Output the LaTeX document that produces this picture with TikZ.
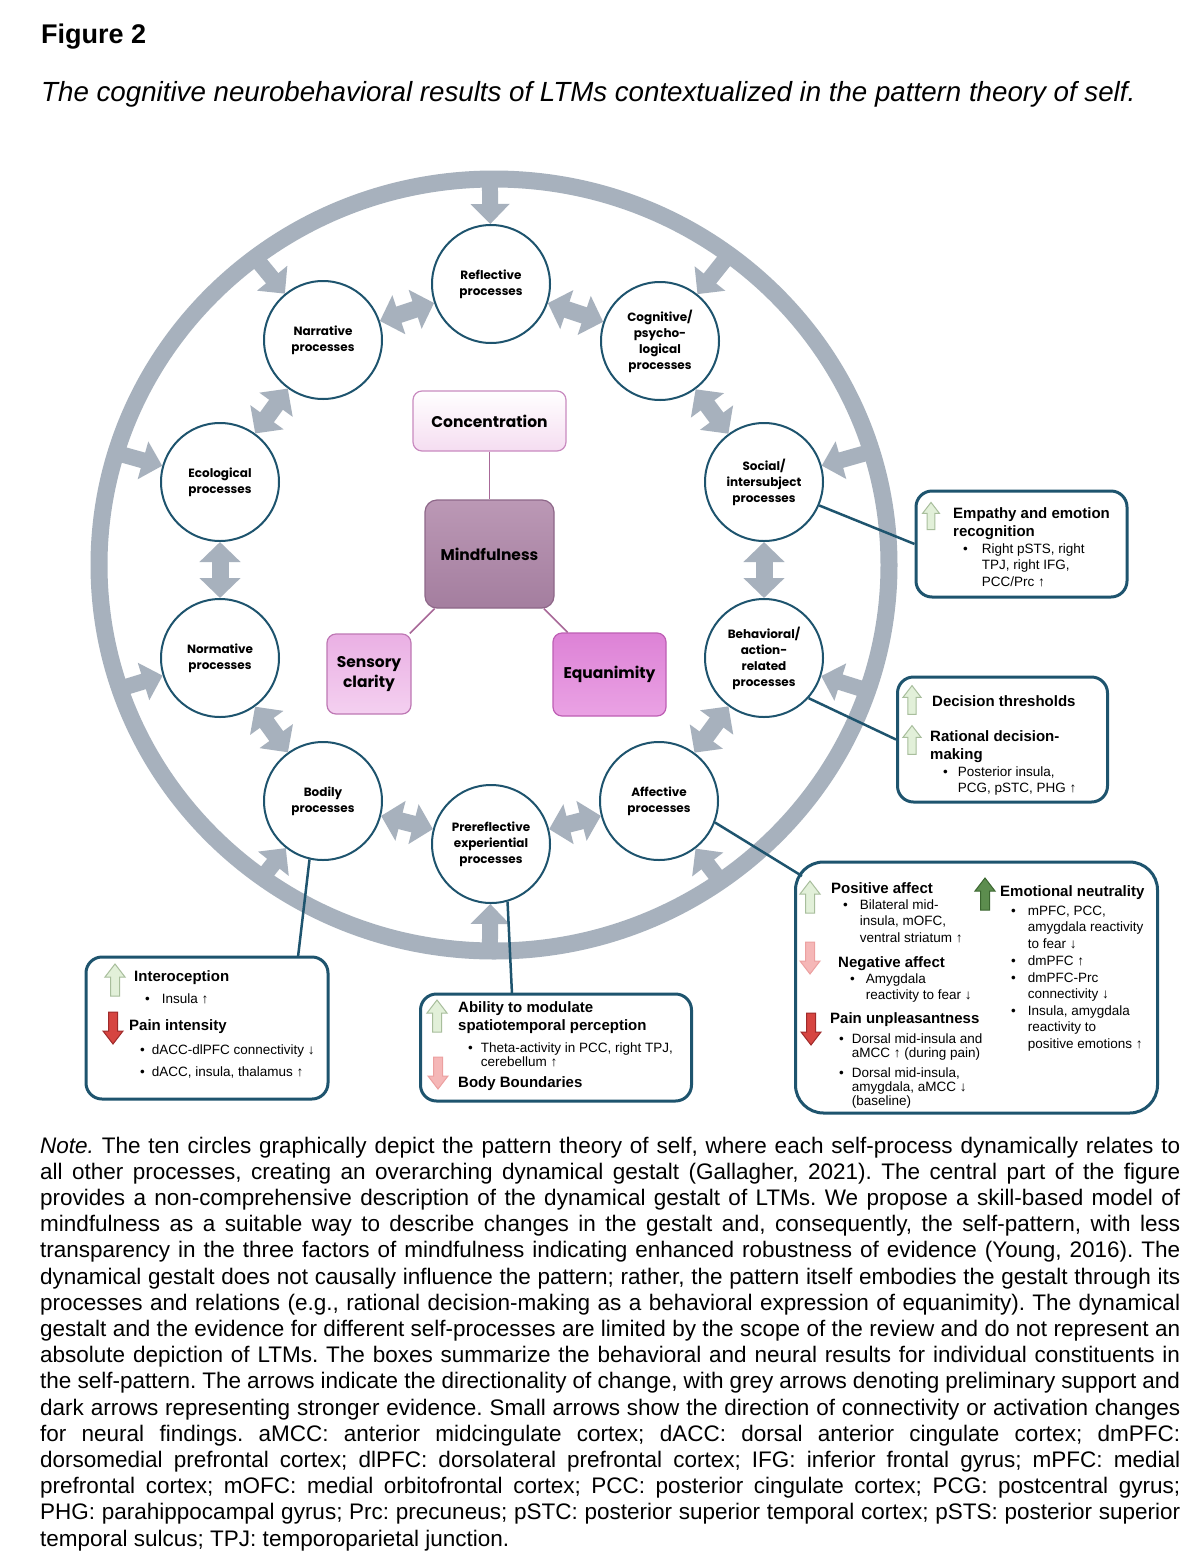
\documentclass[tikz,border=0pt]{standalone}
\usepackage{fontspec}
\setmainfont{Liberation Sans}
\newfontfamily\popfont{Poppins}
\usepackage{tikz}
\usetikzlibrary{arrows.meta,positioning,calc}
\frenchspacing

\definecolor{ringgrey}{RGB}{167,177,189}
\definecolor{selfblue}{RGB}{30,84,110}
\definecolor{concline}{RGB}{201,139,192}
\definecolor{concbot}{RGB}{245,221,241}
\definecolor{mindtop}{RGB}{187,152,181}
\definecolor{mindbot}{RGB}{164,126,159}
\definecolor{mindline}{RGB}{142,103,137}
\definecolor{senstop}{RGB}{234,176,228}
\definecolor{sensbot}{RGB}{244,208,240}
\definecolor{sensline}{RGB}{190,120,180}
\definecolor{equtop}{RGB}{221,130,214}
\definecolor{equbot}{RGB}{234,162,228}
\definecolor{equline}{RGB}{190,95,180}
\definecolor{linkmauve}{RGB}{168,104,152}
\definecolor{lgfill}{RGB}{226,240,217}
\definecolor{lgline}{RGB}{168,190,156}
\definecolor{pkfill}{RGB}{245,183,183}
\definecolor{pkline}{RGB}{236,160,160}
\definecolor{rdfill}{RGB}{214,69,65}
\definecolor{rdline}{RGB}{158,42,42}
\definecolor{dgfill}{RGB}{92,141,78}
\definecolor{dgline}{RGB}{59,102,48}

\newcommand\lines[1]{\begin{tabular}[t]{@{}l@{}}#1\end{tabular}}
\newcommand\bitem[2][5pt]{\textbullet\hspace{#1}\lines{#2}}

\tikzset{
  pics/boxarrow/.style={code={
    \draw[#1] (-4.5,16) -- (-4.5,-3) -- (-10,-3) -- (0,-16) -- (10,-3) -- (4.5,-3) -- (4.5,16) -- cycle;}},
  iconlg/.style={fill=lgfill, draw=lgline, line width=1pt},
  iconpk/.style={fill=pkfill, draw=pkline, line width=1pt},
  iconrd/.style={fill=rdfill, draw=rdline, line width=1pt},
  icondg/.style={fill=dgfill, draw=dgline, line width=1pt},
}

\begin{document}
\begin{tikzpicture}[x=1pt,y=-1pt,
  proc/.style={circle, draw=selfblue, fill=white, line width=2pt, minimum size=118pt,
    inner sep=0pt, align=center, font=\popfont\bfseries\fontsize{12}{16}\selectfont},
  ringarrow/.style={ringgrey, line width=16pt, -{Triangle[width=38pt,length=20pt]}},
  linkarrow/.style={ringgrey, line width=17pt,
    {Triangle[width=40pt,length=20pt]}-{Triangle[width=40pt,length=20pt]}},
  factor/.style={rounded corners=9pt, line width=1.2pt, align=center, inner sep=0pt,
    font=\popfont\bfseries\fontsize{15.5}{20}\selectfont},
  mindlink/.style={linkmauve, line width=1.6pt},
  resbox/.style={draw=selfblue, fill=white, line width=3pt, rounded corners=16pt},
  boxlink/.style={selfblue, line width=2.5pt},
  head/.style={anchor=base west, inner sep=0pt, font=\bfseries\fontsize{15}{18}\selectfont},
  body/.style={anchor=base west, inner sep=0pt, font=\fontsize{13.5}{16.7}\selectfont},
  small/.style={anchor=base west, inner sep=0pt, font=\fontsize{13.5}{14}\selectfont},
]
\fill[white] (0,0) rectangle (1198,1558);
\useasboundingbox (0,0) rectangle (1198,1558);

% title
\node[anchor=base west, inner sep=0pt, font=\bfseries\fontsize{27}{30}\selectfont] (fig) at (41,43) {Figure 2};
\node[anchor=base west, inner sep=0pt, font=\itshape\fontsize{27.7}{30}\selectfont] (caption) at (41,101)
  {The cognitive neurobehavioral results of LTMs contextualized in the pattern theory of self.};

% outer ring of the self-pattern
\coordinate (ring) at (494,565);
\draw[ringgrey, line width=17pt] (ring) ellipse [x radius=395, y radius=386];

% the ten self-processes
\node[proc] (refl) at (491,284) {Reflective\\processes};
\node[proc] (cog) at (660,341) {Cognitive/\\psycho-\\logical\\processes};
\node[proc] (soc) at (764,482) {Social/\\intersubject\\processes};
\node[proc] (beh) at (764,658) {Behavioral/\\action-\\related\\processes};
\node[proc] (aff) at (659,801) {Affective\\processes};
\node[proc] (pre) at (491,844) {Prereflective\\experiential\\processes};
\node[proc] (bod) at (323,801) {Bodily\\processes};
\node[proc] (norm) at (220,658) {Normative\\processes};
\node[proc] (eco) at (220,482) {Ecological\\processes};
\node[proc] (narr) at (323,340) {Narrative\\processes};

\foreach \n/\a in {refl/90.6, cog/53.5, soc/17.1, beh/-19, aff/-55, pre/-90.6,
                   bod/-125.9, norm/-161.3, eco/163.1, narr/127.2}
  \draw[ringarrow] ($(ring)+({395*cos(\a)},{-386*sin(\a)})$) -- (\n);
\foreach \p/\q in {refl/cog, cog/soc, soc/beh, beh/aff, aff/pre,
                   pre/bod, bod/norm, norm/eco, eco/narr, narr/refl}
  \draw[linkarrow] (\p) -- (\q);

% mindfulness factors
\node[factor, draw=concline, top color=white, bottom color=concbot,
  minimum width=153pt, minimum height=60pt] (conc) at (489.5,421) {Concentration};
\node[factor, draw=mindline, top color=mindtop, bottom color=mindbot, rounded corners=12pt,
  minimum width=129pt, minimum height=108pt] (mind) at (489.5,554) {Mindfulness};
\node[factor, draw=sensline, top color=senstop, bottom color=sensbot,
  minimum width=84pt, minimum height=80pt] (sens) at (369,674) {Sensory\\clarity};
\node[factor, draw=equline, top color=equtop, bottom color=equbot,
  minimum width=113pt, minimum height=83pt] (equ) at (609.5,674.5) {Equanimity};
\draw[mindlink] (conc) -- (mind);
\draw[mindlink] (mind) -- (sens);
\draw[mindlink] (mind) -- (equ);

% result boxes
\node[resbox, minimum width=211pt, minimum height=106pt] (emp) at (1021.5,544) {};
\node[resbox, minimum width=210pt, minimum height=125pt] (dec) at (1002.5,739.5) {};
\node[resbox, rounded corners=28pt, minimum width=362pt, minimum height=251pt] (affbox) at (976.5,987.5) {};
\node[resbox, minimum width=242pt, minimum height=142pt] (intero) at (207,1028) {};
\node[resbox, minimum width=271pt, minimum height=107pt] (abil) at (556,1047.5) {};

\coordinate (affin) at (802,876);
\coordinate (interotop) at (298,957);
\coordinate (abiltop) at (512,994);
\draw[boxlink] (soc.-23) -- (emp.west);
\draw[boxlink] (beh.-42) -- (dec.west);
\draw[boxlink] (aff.-21) -- (affin);
\draw[boxlink] (bod.-103) -- (interotop);
\draw[boxlink] (pre.-74) -- (abiltop);

% empathy
\pic[scale=.85] at (931,516) {boxarrow=iconlg};
\node[head] (emph) at (953,518) {\lines{Empathy and emotion\\recognition}};
\node[body] (empb) at (963,553) {\bitem[14pt]{Right pSTS, right\\TPJ, right IFG,\\PCC/Prc ↑}};

% decision
\pic[scale=.9] at (912,700) {boxarrow=iconlg};
\node[head] (dech) at (932,706) {Decision thresholds};
\pic[scale=.9] at (912,740) {boxarrow=iconlg};
\node[head] (rath) at (930,741) {\lines{Rational decision-\\making}};
\node[body] (ratb) at (943,776) {\bitem[10pt]{Posterior insula,\\PCG, pSTC, PHG ↑}};

% affective
\pic at (810,897) {boxarrow=iconlg};
\node[head] (posh) at (831,893) {Positive affect};
\node[body] (posb) at (843,909) {\bitem[12pt]{Bilateral mid-\\insula, mOFC,\\ventral striatum ↑}};
\pic[rotate=180] at (810,958) {boxarrow=iconpk};
\node[head] (negh) at (838,967) {Negative affect};
\node[body] (negb) at (850,983) {\bitem[11pt]{Amygdala\\reactivity to fear ↓}};
\pic[rotate=180] at (811,1029) {boxarrow=iconrd};
\node[head] (painh) at (830,1023) {Pain unpleasantness};
\node[small] (painb) at (839,1043) {\bitem[8pt]{Dorsal mid-insula and\\aMCC ↑ (during pain)}};
\node[small] (painc) at (839,1077) {\bitem[8pt]{Dorsal mid-insula,\\amygdala, aMCC ↓\\(baseline)}};
\pic at (985,894) {boxarrow=icondg};
\node[head] (neuh) at (1000,896) {Emotional neutrality};
\node[body] (neub) at (1011,915) {\bitem[12pt]{mPFC, PCC,\\amygdala reactivity\\to fear ↓}};
\node[body] (neuc) at (1011,965) {\bitem[12pt]{dmPFC ↑}};
\node[body] (neud) at (1011,982) {\bitem[12pt]{dmPFC-Prc\\connectivity ↓}};
\node[body] (neue) at (1011,1015) {\bitem[12pt]{Insula, amygdala\\reactivity to\\positive emotions ↑}};

% interoception
\pic at (115,980) {boxarrow=iconlg};
\node[head] (inth) at (134,981) {Interoception};
\node[body] (intb) at (145,1003) {\bitem[12pt]{Insula ↑}};
\pic[rotate=180] at (113,1028) {boxarrow=iconrd};
\node[head] (painih) at (129,1030) {Pain intensity};
\node[body] (painib) at (140,1054) {\bitem[7pt]{dACC-dlPFC connectivity ↓}};
\node[body] (painic) at (140,1076) {\bitem[7pt]{dACC, insula, thalamus ↑}};

% spatiotemporal
\pic at (437,1016) {boxarrow=iconlg};
\node[head] (abh) at (458,1012) {\lines{Ability to modulate\\spatiotemporal perception}};
\node[small] (abb) at (468,1052) {\bitem[8pt]{Theta-activity in PCC, right TPJ,\\cerebellum ↑}};
\pic[rotate=180] at (438,1073) {boxarrow=iconpk};
\node[head] (bodh) at (458,1087) {Body Boundaries};

% note
\node[anchor=base west, inner sep=0pt, font=\fontsize{22.5}{26.2}\selectfont] (note) at (40,1153) {\lines{%
\makebox[1140pt][s]{\textit{Note.} The ten circles graphically depict the pattern theory of self, where each self-process dynamically relates to}\\
\makebox[1140pt][s]{all other processes, creating an overarching dynamical gestalt (Gallagher, 2021). The central part of the figure}\\
\makebox[1140pt][s]{provides a non-comprehensive description of the dynamical gestalt of LTMs. We propose a skill-based model of}\\
\makebox[1140pt][s]{mindfulness as a suitable way to describe changes in the gestalt and, consequently, the self-pattern, with less}\\
\makebox[1140pt][s]{transparency in the three factors of mindfulness indicating enhanced robustness of evidence (Young, 2016). The}\\
\makebox[1140pt][s]{dynamical gestalt does not causally influence the pattern; rather, the pattern itself embodies the gestalt through its}\\
\makebox[1140pt][s]{processes and relations (e.g., rational decision-making as a behavioral expression of equanimity). The dynamical}\\
\makebox[1140pt][s]{gestalt and the evidence for different self-processes are limited by the scope of the review and do not represent an}\\
\makebox[1140pt][s]{absolute depiction of LTMs. The boxes summarize the behavioral and neural results for individual constituents in}\\
\makebox[1140pt][s]{the self-pattern. The arrows indicate the directionality of change, with grey arrows denoting preliminary support and}\\
\makebox[1140pt][s]{dark arrows representing stronger evidence. Small arrows show the direction of connectivity or activation changes}\\
\makebox[1140pt][s]{for neural findings. aMCC: anterior midcingulate cortex; dACC: dorsal anterior cingulate cortex; dmPFC:}\\
\makebox[1140pt][s]{dorsomedial prefrontal cortex; dlPFC: dorsolateral prefrontal cortex; IFG: inferior frontal gyrus; mPFC: medial}\\
\makebox[1140pt][s]{prefrontal cortex; mOFC: medial orbitofrontal cortex; PCC: posterior cingulate cortex; PCG: postcentral gyrus;}\\
\makebox[1140pt][s]{PHG: parahippocampal gyrus; Prc: precuneus; pSTC: posterior superior temporal cortex; pSTS: posterior superior}\\
temporal sulcus; TPJ: temporoparietal junction.}};
\end{tikzpicture}
\end{document}
